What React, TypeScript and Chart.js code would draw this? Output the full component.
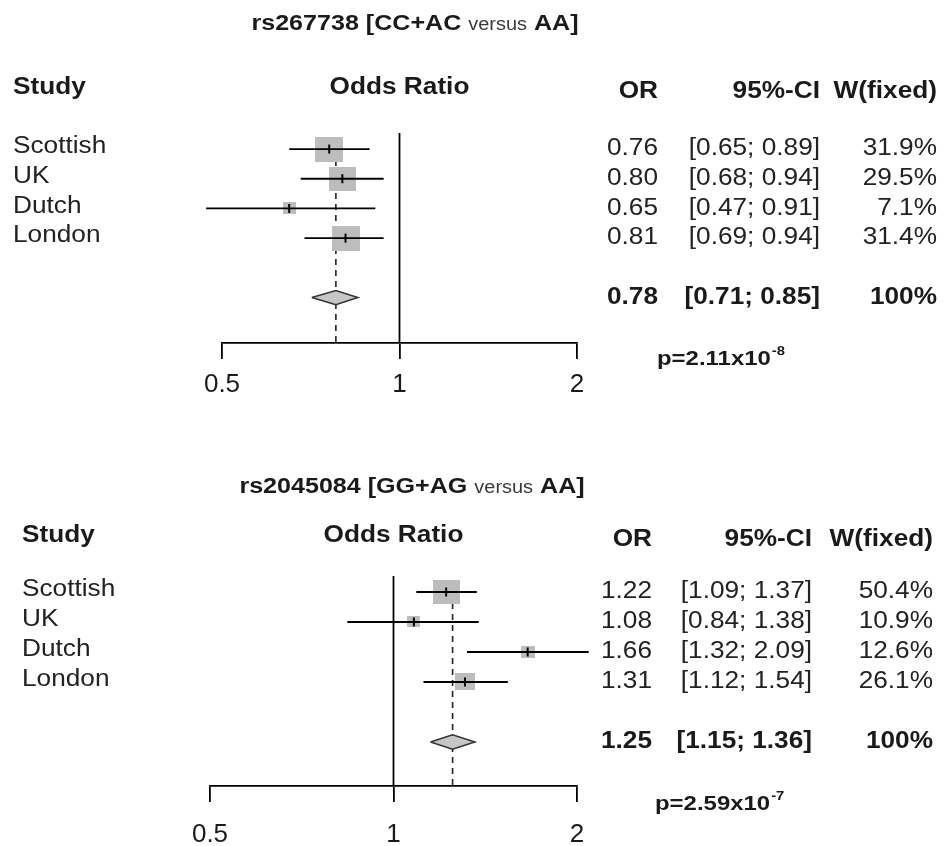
import React, { useEffect, useRef } from "react";
import { Chart, registerables } from "chart.js";

Chart.register(...registerables);

// ---------- data ----------
const STUDIES = ["Scottish", "UK", "Dutch", "London"];
const X_TICKS = [0.5, 1, 2];
const NULL_OR = 1;

// Panel 1: rs267738
const P1_TITLE_A = "rs267738 [CC+AC ";
const P1_TITLE_VS = "versus";
const P1_TITLE_B = " AA]";
const P1_OR = [0.76, 0.8, 0.65, 0.81];
const P1_LO = [0.65, 0.68, 0.47, 0.69];
const P1_HI = [0.89, 0.94, 0.91, 0.94];
const P1_W = [31.9, 29.5, 7.1, 31.4];
const P1_SUM = [0.78, 0.71, 0.85];
const P1_P_MANT = "2.11";
const P1_P_EXP = "-8";

// Panel 2: rs2045084
const P2_TITLE_A = "rs2045084 [GG+AG ";
const P2_TITLE_VS = "versus";
const P2_TITLE_B = " AA]";
const P2_OR = [1.22, 1.08, 1.66, 1.31];
const P2_LO = [1.09, 0.84, 1.32, 1.12];
const P2_HI = [1.37, 1.38, 2.09, 1.54];
const P2_W = [50.4, 10.9, 12.6, 26.1];
const P2_SUM = [1.25, 1.15, 1.36];
const P2_P_MANT = "2.59";
const P2_P_EXP = "-7";

// ---------- style / layout ----------
const FONT = '"Liberation Sans", Arial, Helvetica, sans-serif';
const SX = 1.14; // horizontal stretch of the original picture
const TXT = "#1a1a1a";
const SQUARE_FILL = "#bdbdbd";
const DIAMOND_FILL = "#c6c6c6";
const SUMMARY_ROW = 5;
const DIAMOND_HALF = 0.24;
const CANVAS_W = 945;
const CANVAS_H = 423;

type Layout = {
  top: number; plotLeft: number; plotRight: number; plotTop: number;
  yMin: number; yMax: number; axisHeight: number; tickPad: number;
  sqMax: number; titleX: number; titleY: number; headerY: number; headerY2: number;
  labelX: number; orRight: number; ciRight: number; wRight: number; pX: number; pY: number;
};

type Panel = {
  titleA: string; titleVs: string; titleB: string;
  or: number[]; lo: number[]; hi: number[]; w: number[];
  sum: number[]; pMant: string; pExp: string; L: Layout;
};

const PANELS: Panel[] = [
  {
    titleA: P1_TITLE_A, titleVs: P1_TITLE_VS, titleB: P1_TITLE_B,
    or: P1_OR, lo: P1_LO, hi: P1_HI, w: P1_W, sum: P1_SUM, pMant: P1_P_MANT, pExp: P1_P_EXP,
    L: {
      top: 0, plotLeft: 222, plotRight: 577, plotTop: 133,
      yMin: -0.54, yMax: 6.53, axisHeight: 80, tickPad: 10, sqMax: 25,
      titleX: 415, titleY: 22, headerY: 88, headerY2: 92,
      labelX: 13, orRight: 658, ciRight: 820, wRight: 937, pX: 657, pY: 357,
    },
  },
  {
    titleA: P2_TITLE_A, titleVs: P2_TITLE_VS, titleB: P2_TITLE_B,
    or: P2_OR, lo: P2_LO, hi: P2_HI, w: P2_W, sum: P2_SUM, pMant: P2_P_MANT, pExp: P2_P_EXP,
    L: {
      top: 423, plotLeft: 210, plotRight: 577, plotTop: 153,
      yMin: -0.533, yMax: 6.467, axisHeight: 60, tickPad: 17, sqMax: 24,
      titleX: 412, titleY: 62, headerY: 113, headerY2: 117,
      labelX: 22, orRight: 652, ciRight: 812, wRight: 933, pX: 655, pY: 379,
    },
  },
];

function drawText(
  ctx: CanvasRenderingContext2D, text: string, x: number, y: number, font: string,
  align: "left" | "right" | "center", color = TXT, baseline: CanvasTextBaseline = "middle"
) {
  ctx.save();
  ctx.font = font;
  const w = ctx.measureText(text).width * SX;
  const x0 = align === "left" ? x : align === "right" ? x - w : x - w / 2;
  ctx.translate(x0, y);
  ctx.scale(SX, 1);
  ctx.textAlign = "left";
  ctx.textBaseline = baseline;
  ctx.fillStyle = color;
  ctx.fillText(text, 0, 0);
  ctx.restore();
  return w;
}

function measure(ctx: CanvasRenderingContext2D, text: string, font: string) {
  ctx.save();
  ctx.font = font;
  const w = ctx.measureText(text).width * SX;
  ctx.restore();
  return w;
}

function makeTextPlugin(p: Panel) {
  return {
    id: "forestText",
    afterDraw(chart: any) {
      const ctx: CanvasRenderingContext2D = chart.ctx;
      const L = p.L;
      const ys = chart.scales.y;
      const area = chart.chartArea;
      const bold = (s: number) => `bold ${s}px ${FONT}`;
      const norm = (s: number) => `${s}px ${FONT}`;

      // title
      const tb = L.titleY + 8;
      const wA = measure(ctx, p.titleA, bold(22));
      const wV = measure(ctx, p.titleVs, norm(17.5));
      const wB = measure(ctx, p.titleB, bold(22));
      let tx = L.titleX - (wA + wV + wB) / 2;
      drawText(ctx, p.titleA, tx, tb, bold(22), "left", TXT, "alphabetic");
      tx += wA;
      drawText(ctx, p.titleVs, tx, tb, norm(17.5), "left", "#3a3a3a", "alphabetic");
      tx += wV;
      drawText(ctx, p.titleB, tx, tb, bold(22), "left", TXT, "alphabetic");

      // headers
      drawText(ctx, "Study", L.labelX, L.headerY, bold(23), "left");
      drawText(ctx, "Odds Ratio", (area.left + area.right) / 2, L.headerY, bold(23), "center");
      drawText(ctx, "OR", L.orRight, L.headerY2, bold(23), "right");
      drawText(ctx, "95%-CI", L.ciRight, L.headerY2, bold(23), "right");
      drawText(ctx, "W(fixed)", L.wRight, L.headerY2, bold(23), "right");

      // study rows
      STUDIES.forEach((s, i) => {
        const y = ys.getPixelForValue(i);
        drawText(ctx, s, L.labelX, y - 2, norm(23), "left", "#222");
        drawText(ctx, p.or[i].toFixed(2), L.orRight, y, norm(23), "right", "#222");
        drawText(ctx, `[${p.lo[i].toFixed(2)}; ${p.hi[i].toFixed(2)}]`, L.ciRight, y, norm(23), "right", "#222");
        drawText(ctx, `${p.w[i].toFixed(1)}%`, L.wRight, y, norm(23), "right", "#222");
      });

      // summary row
      const sy = ys.getPixelForValue(SUMMARY_ROW);
      drawText(ctx, p.sum[0].toFixed(2), L.orRight, sy, bold(23), "right");
      drawText(ctx, `[${p.sum[1].toFixed(2)}; ${p.sum[2].toFixed(2)}]`, L.ciRight, sy, bold(23), "right");
      drawText(ctx, "100%", L.wRight, sy, bold(23), "right");

      // p value
      const pb = L.pY + 8;
      const pw = drawText(ctx, `p=${p.pMant}x10`, L.pX, pb, bold(21), "left", TXT, "alphabetic");
      drawText(ctx, p.pExp, L.pX + pw + 1, pb - 10, bold(13), "left", TXT, "alphabetic");
    },
  };
}

function squareImage(w: number, h: number) {
  const c = document.createElement("canvas");
  c.width = Math.max(2, Math.round(w));
  c.height = Math.max(2, Math.round(h));
  const g = c.getContext("2d")!;
  g.fillStyle = SQUARE_FILL;
  g.fillRect(0, 0, c.width, c.height);
  return c;
}

function buildConfig(p: Panel): any {
  const L = p.L;
  const wMax = Math.max(...p.w);
  const squares = p.w.map((w) => {
    const h = L.sqMax * Math.sqrt(w / wMax);
    return squareImage(h * SX, h);
  });

  const datasets: any[] = [];

  datasets.push({
    label: "estimate",
    data: p.or.map((v, i) => ({ x: v, y: i })),
    showLine: false,
    pointStyle: "line",
    rotation: 90,
    pointRadius: 4.5,
    borderWidth: 2,
    borderColor: "#000",
    order: 0,
  });

  p.lo.forEach((lo, i) => {
    datasets.push({
      label: `ci-${i}`,
      data: [{ x: lo, y: i }, { x: p.hi[i], y: i }],
      showLine: true,
      pointRadius: 0,
      borderColor: "#000",
      borderWidth: 1.8,
      clip: false,
      order: 1,
    });
  });

  datasets.push({
    label: "null",
    data: [{ x: NULL_OR, y: L.yMin }, { x: NULL_OR, y: L.yMax }],
    showLine: true,
    pointRadius: 0,
    borderColor: "#000",
    borderWidth: 1.8,
    order: 2,
  });

  datasets.push({
    label: "weight",
    data: p.or.map((v, i) => ({ x: v, y: i })),
    showLine: false,
    pointStyle: (c: any) => squares[c.dataIndex],
    pointRadius: 5,
    order: 3,
  });

  datasets.push({
    label: "summary",
    data: [
      { x: p.sum[1], y: SUMMARY_ROW },
      { x: p.sum[0], y: SUMMARY_ROW - DIAMOND_HALF },
      { x: p.sum[2], y: SUMMARY_ROW },
      { x: p.sum[0], y: SUMMARY_ROW + DIAMOND_HALF },
      { x: p.sum[1], y: SUMMARY_ROW },
    ],
    showLine: true,
    pointRadius: 0,
    borderColor: "#333",
    borderWidth: 1.5,
    backgroundColor: DIAMOND_FILL,
    fill: "shape",
    tension: 0,
    order: 4,
  });

  datasets.push({
    label: "summary-line",
    data: [{ x: p.sum[0], y: 0 }, { x: p.sum[0], y: L.yMax }],
    showLine: true,
    pointRadius: 0,
    borderColor: "#222",
    borderWidth: 1.6,
    borderDash: [6, 5],
    order: 5,
  });

  return {
    type: "scatter",
    data: { datasets },
    options: {
      responsive: false,
      maintainAspectRatio: false,
      animation: false,
      devicePixelRatio: 1,
      events: [],
      layout: { padding: { left: L.plotLeft, right: CANVAS_W - L.plotRight, top: L.plotTop, bottom: 0 } },
      plugins: { legend: { display: false }, tooltip: { enabled: false } },
      scales: {
        x: {
          type: "logarithmic",
          position: "bottom",
          min: X_TICKS[0],
          max: X_TICKS[X_TICKS.length - 1],
          afterBuildTicks: (s: any) => {
            s.ticks = X_TICKS.map((v) => ({ value: v }));
          },
          afterFit: (s: any) => {
            s.height = L.axisHeight;
          },
          grid: { display: true, drawOnChartArea: false, drawTicks: true, tickLength: 16, color: "#000", lineWidth: 1.8 },
          border: { display: true, color: "#000", width: 1.8 },
          ticks: {
            color: "#1a1a1a",
            font: { family: FONT, size: 26 },
            padding: L.tickPad,
            autoSkip: false,
            maxRotation: 0,
            callback: (v: any) => String(v),
          },
        },
        y: { type: "linear", display: false, reverse: true, min: L.yMin, max: L.yMax },
      },
    },
    plugins: [makeTextPlugin(p)],
  };
}

function ForestPanel({ panel }: { panel: Panel }) {
  const ref = useRef<HTMLCanvasElement>(null);
  useEffect(() => {
    const chart = new Chart(ref.current as HTMLCanvasElement, buildConfig(panel));
    return () => chart.destroy();
  }, [panel]);
  return (
    <canvas
      ref={ref}
      width={CANVAS_W}
      height={CANVAS_H}
      style={{ position: "absolute", left: 0, top: panel.L.top, width: CANVAS_W, height: CANVAS_H, display: "block" }}
    />
  );
}

export default function App() {
  return (
    <div style={{ position: "absolute", left: 0, top: 0, width: CANVAS_W, height: 846, background: "#fff" }}>
      {PANELS.map((p, i) => (
        <ForestPanel key={i} panel={p} />
      ))}
    </div>
  );
}
